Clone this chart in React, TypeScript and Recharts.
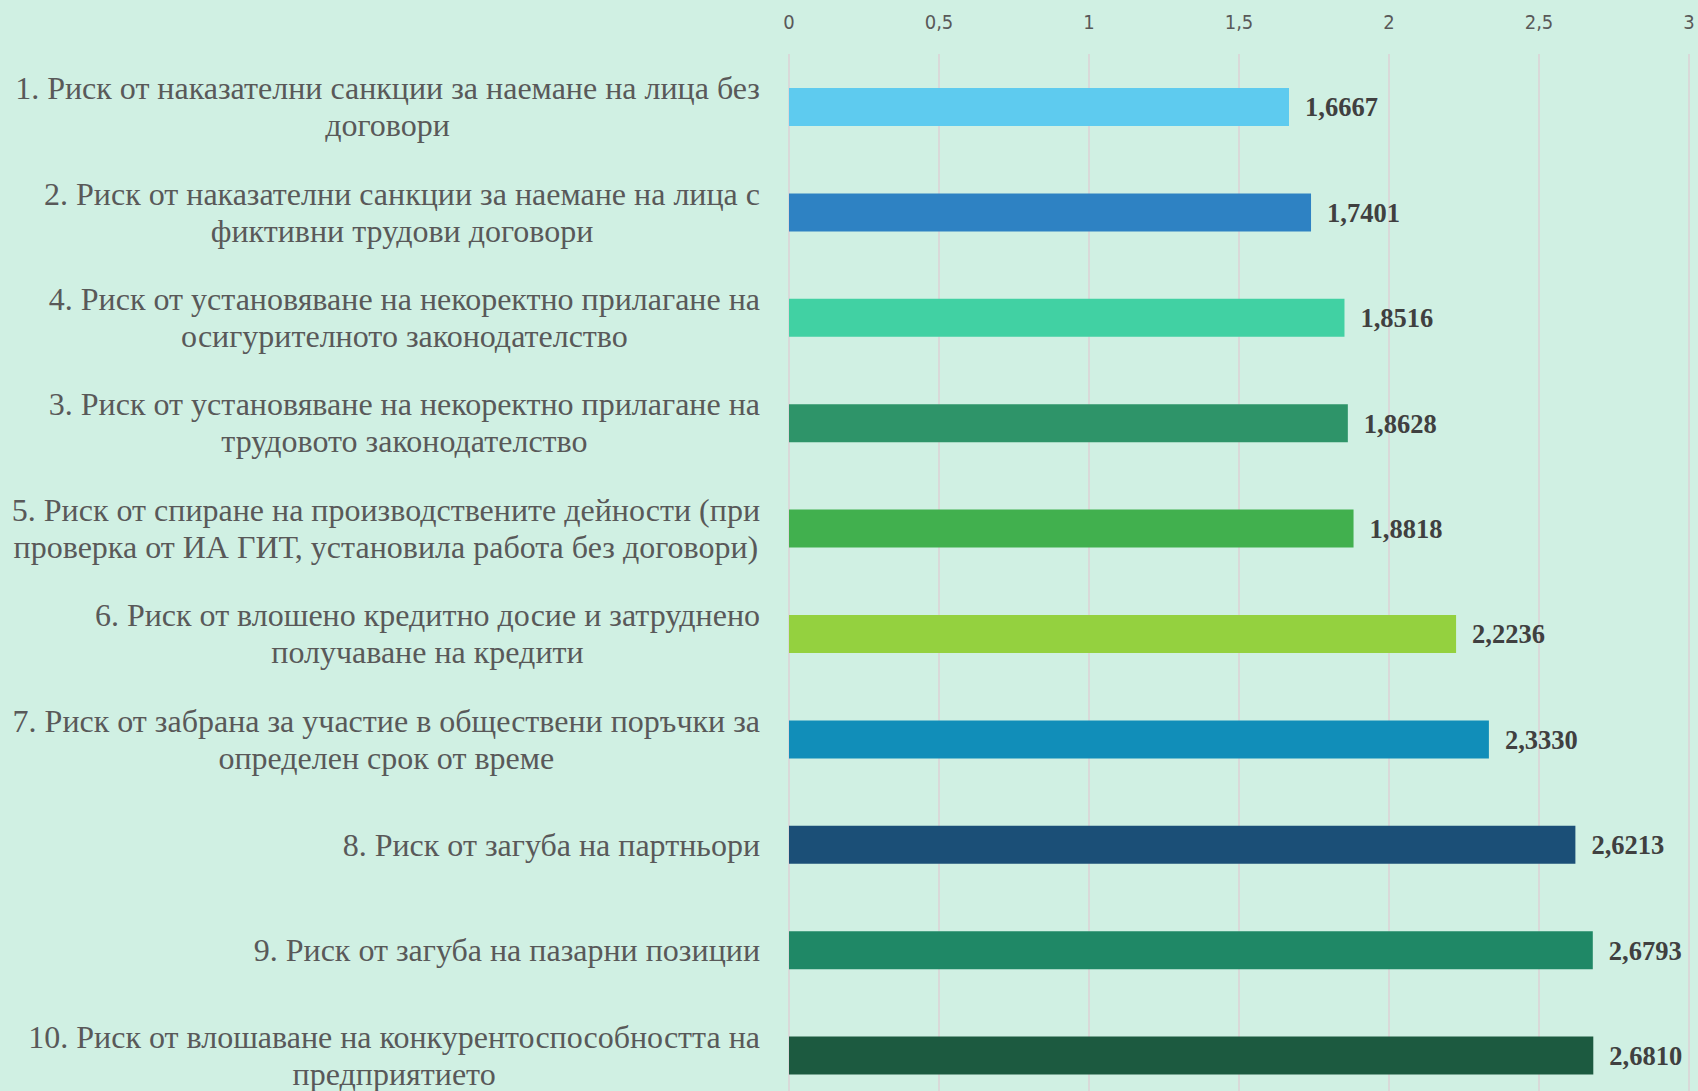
import React from "react";
import {
  BarChart,
  Bar,
  XAxis,
  YAxis,
  CartesianGrid,
  Cell,
  LabelList,
} from "recharts";

const categories = [
  "1. Риск от наказателни санкции за наемане на лица без\nдоговори",
  "2. Риск от наказателни санкции за наемане на лица с\nфиктивни трудови договори",
  "4. Риск от установяване на некоректно прилагане на\nосигурителното законодателство",
  "3. Риск от установяване на некоректно прилагане на\nтрудовото законодателство",
  "5. Риск от спиране на производствените дейности (при\nпроверка от ИА ГИТ, установила работа без договори)",
  "6. Риск от влошено кредитно досие и затруднено\nполучаване на кредити",
  "7. Риск от забрана за участие в обществени поръчки за\nопределен срок от време",
  "8. Риск от загуба на партньори",
  "9. Риск от загуба на пазарни позиции",
  "10. Риск от влошаване на конкурентоспособността на\nпредприятието",
];

const values = [
  1.6667, 1.7401, 1.8516, 1.8628, 1.8818, 2.2236, 2.333, 2.6213, 2.6793, 2.681,
];

const barColors = [
  "#5ecbef",
  "#2e82c3",
  "#41d1a3",
  "#2e9469",
  "#41b04e",
  "#94d13f",
  "#118eb9",
  "#1b4f77",
  "#1f8866",
  "#1c5a40",
];

const xTicks = [0, 0.5, 1, 1.5, 2, 2.5, 3];

const data = categories.map((name, i) => ({ name, value: values[i] }));

const LABEL_FAMILY = "'Liberation Serif', 'DejaVu Serif', serif";
const LABEL_SIZE = 32;

function measure(text: string) {
  const c = document.createElement("canvas").getContext("2d");
  if (!c) return text.length * 15;
  c.font = `${LABEL_SIZE}px ${LABEL_FAMILY}`;
  return c.measureText(text).width;
}

function CategoryTick(props: any) {
  const { x, y, payload } = props;
  const lines: string[] = String(payload.value).split("\n");
  const widest = Math.max(...lines.map(measure));
  const cx = x - widest / 2;
  const lineH = 37;
  const start = y - ((lines.length - 1) * lineH) / 2;
  return (
    <g>
      {lines.map((line, i) => (
        <text
          key={i}
          x={cx}
          y={start + i * lineH}
          textAnchor="middle"
          dominantBaseline="central"
          fill="#595959"
          fontFamily={LABEL_FAMILY}
          fontSize={LABEL_SIZE}
        >
          {line}
        </text>
      ))}
    </g>
  );
}

function ValueTick(props: any) {
  const { x, payload } = props;
  return (
    <text
      x={x}
      y={22}
      textAnchor="middle"
      dominantBaseline="central"
      fill="#595959"
      fontFamily="'Liberation Sans Narrow', 'DejaVu Sans Condensed', Roboto"
      fontSize={20}
    >
      {String(payload.value).replace(".", ",")}
    </text>
  );
}

export default function App() {
  return (
    <div
      style={{
        position: "fixed",
        left: 0,
        top: 0,
        width: 1698,
        height: 1091,
        overflow: "hidden",
        background: "#d0f0e3",
      }}
    >
      <BarChart
        width={1698}
        height={1108}
        data={data}
        layout="vertical"
        margin={{ top: 0, right: 9, bottom: 0, left: 0 }}
        barSize={38}
      >
        <CartesianGrid horizontal={false} stroke="#d9d9d9" strokeWidth={2} />
        <XAxis
          type="number"
          orientation="top"
          domain={[0, 3]}
          ticks={xTicks}
          height={54}
          axisLine={false}
          tickLine={false}
          tick={<ValueTick />}
          interval={0}
        />
        <YAxis
          type="category"
          dataKey="name"
          width={789}
          axisLine={false}
          tickLine={false}
          tickSize={0}
          tickMargin={29}
          tick={<CategoryTick />}
          interval={0}
        />
        <Bar dataKey="value" isAnimationActive={false}>
          {data.map((_, i) => (
            <Cell key={`cell-${i}`} fill={barColors[i]} />
          ))}
          <LabelList
            dataKey="value"
            position="right"
            offset={16}
            formatter={(v: any) => Number(v).toFixed(4).replace(".", ",")}
            fontFamily="'Liberation Serif'"
            fontWeight="bold"
            fontSize={26.5}
            fill="#404040"
          />
        </Bar>
      </BarChart>
    </div>
  );
}
